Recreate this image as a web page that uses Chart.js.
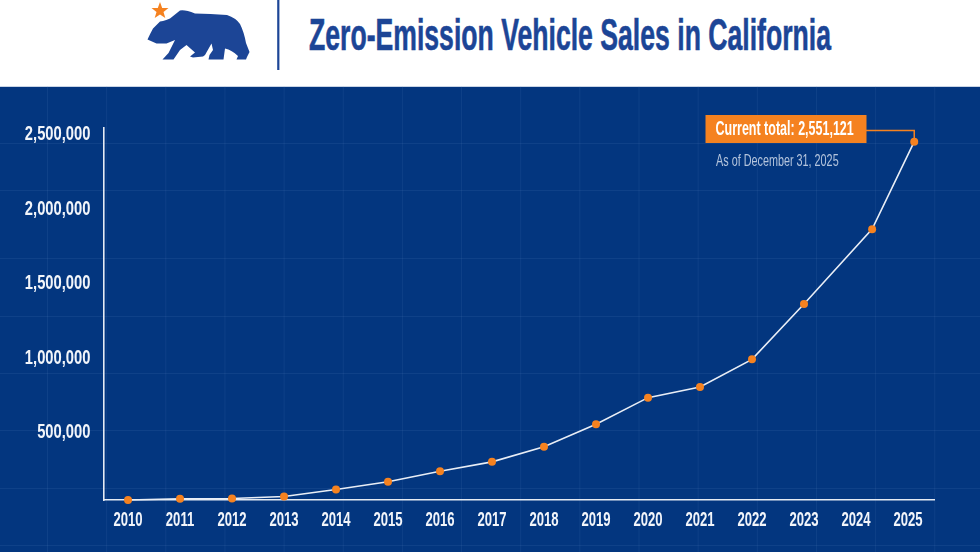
<!DOCTYPE html>
<html>
<head>
<meta charset="utf-8">
<style>
  html, body { margin: 0; padding: 0; background: #fff; overflow: hidden; }
  #head { position: absolute; left: 0; top: 0; width: 980px; height: 86px; background: #fff; }
  #panel { position: absolute; left: 0; top: 86px; width: 980px; height: 466px; background: #03367f; border-top: 1px solid #c9d5e6; box-sizing: border-box; }
  #wrap { position: absolute; left: 0; top: 86px; width: 980px; height: 466px; }
</style>
</head>
<body>
<div id="head">
  <svg width="980" height="86" xmlns="http://www.w3.org/2000/svg">
    <polygon fill="#f58220" points="160,2 162.2,7.9 168.5,8.1 163.5,12 165.3,18 160,14.5 154.7,18 156.5,12 151.5,8.1 157.8,7.9"/>
    <path fill="#1c4596" d="M147.5,39.5 Q150,34 153,28.5 L160,21.5 L163,21 Q166,20 170,18.5 L180,10.5 Q185,9.5 195,13.5 Q210,13.5 227,15 Q236,18 240,24 Q244,32 246,43 L249.5,52 L247,57 L246,59.5 L236.5,59.5 L238,56 Q232,50 225,48.5 L223.5,59.5 L208.5,59.5 L209.5,55 L213,50 L211.5,43.5 L205,55 L203,56.5 L193,57.5 L190,56.5 L195,52.5 L186.5,45 L180,50 L173.5,59.5 L162.5,59.5 L168.5,53 L175,40 L166.5,43.5 L156.5,43.5 Z"/>
    <rect x="277.2" y="0" width="2.2" height="70" fill="#1c4596"/>
    <text x="309" y="50" textLength="522" lengthAdjust="spacingAndGlyphs" font-family="Liberation Sans" font-weight="700" font-size="44" fill="#1c4596" stroke="#1c4596" stroke-width="0.6">Zero-Emission Vehicle Sales in California</text>
  </svg>
</div>
<div id="panel"></div>
<div id="wrap"><canvas id="salesChart" width="980" height="466"></canvas></div>
<script src="https://cdn.jsdelivr.net/npm/chart.js@4/dist/chart.umd.min.js"></script>
<script>
var years = [2010, 2011, 2012, 2013, 2014, 2015, 2016, 2017, 2018, 2019, 2020, 2021, 2022, 2023, 2024, 2025];
var saleDates = [2010, 2011, 2012, 2013, 2014, 2015, 2016, 2017, 2018, 2019, 2020, 2021, 2022, 2023, 2024.31, 2025.12];
var salesTotals = [40000, 48000, 50000, 63000, 110000, 162000, 233000, 296000, 397000, 549000, 727000, 798000, 984000, 1356000, 1858000, 2445000];
var yTicks = [500000, 1000000, 1500000, 2000000, 2500000];
var calloutText = 'Current total: 2,551,121';
var asOfText = 'As of December 31, 2025';

var FONT = '"Liberation Sans"';

function narrowText(ctx, text, x, y, scaleX, font, color, align) {
    ctx.save();
    ctx.font = font;
    ctx.fillStyle = color;
    ctx.textAlign = align;
    ctx.textBaseline = 'middle';
    ctx.translate(x, y);
    ctx.scale(scaleX, 1);
    ctx.fillText(text, 0, 0);
    ctx.restore();
}

// faint blueprint lines behind everything
var blueprint = {
    id: 'blueprint',
    beforeDraw: function (chart) {
        var ctx = chart.ctx, x;
        ctx.save();
        ctx.strokeStyle = 'rgba(120,155,205,0.11)';
        ctx.lineWidth = 1;
        ctx.beginPath();
        for (x = 47.5; x < 980; x += 59.15) { ctx.moveTo(x, 0); ctx.lineTo(x, 466); }
        [57, 104, 172, 230, 287, 344, 402, 459].forEach(function (y) {
            ctx.moveTo(0, y + 0.5);
            ctx.lineTo(980, y + 0.5);
        });
        ctx.stroke();
        ctx.restore();
    }
};

// condensed tick labels, taken from the scales
var axisLabels = {
    id: 'axisLabels',
    afterDatasetsDraw: function (chart) {
        var ctx = chart.ctx, xs = chart.scales.x, ys = chart.scales.y;
        xs.ticks.forEach(function (t) {
            narrowText(ctx, String(t.value), xs.getPixelForValue(t.value), 434, 0.64, 'bold 20.5px ' + FONT, '#f2f5fa', 'center');
        });
        ys.ticks.forEach(function (t) {
            narrowText(ctx, t.value.toLocaleString('en-US'), 90.5, ys.getPixelForValue(t.value) + 1, 0.72, 'bold 20.5px ' + FONT, '#f2f5fa', 'right');
        });
    }
};

// orange label tied to the last point
var callout = {
    id: 'callout',
    afterDatasetsDraw: function (chart) {
        var ctx = chart.ctx;
        var pts = chart.getDatasetMeta(0).data;
        var last = pts[pts.length - 1];
        ctx.save();
        ctx.strokeStyle = '#f58220';
        ctx.lineWidth = 1.5;
        ctx.beginPath();
        ctx.moveTo(866, 44.5);
        ctx.lineTo(last.x, 44.5);
        ctx.lineTo(last.x, last.y);
        ctx.stroke();
        ctx.fillStyle = '#f58220';
        ctx.fillRect(705.5, 29, 161, 28);
        ctx.restore();
        narrowText(ctx, calloutText, 715.5, 43, 0.625, 'bold 20px ' + FONT, '#ffffff', 'left');
        narrowText(ctx, asOfText, 716, 76, 0.676, '16px ' + FONT, '#b4c4dc', 'left');
    }
};

new Chart(document.getElementById('salesChart'), {
    type: 'line',
    data: {
        datasets: [{
            data: saleDates.map(function (d, i) { return { x: d, y: salesTotals[i] }; }),
            borderColor: '#e9eef6',
            borderWidth: 1.6,
            tension: 0,
            pointRadius: 4,
            pointBackgroundColor: '#f58220',
            pointBorderColor: '#f58220',
            pointBorderWidth: 0,
            clip: false
        }]
    },
    options: {
        responsive: false,
        animation: false,
        events: [],
        layout: { padding: { left: 96, right: 46, top: 42, bottom: 44 } },
        plugins: {
            legend: { display: false },
            title: { display: false },
            tooltip: { enabled: false }
        },
        scales: {
            x: {
                type: 'linear',
                min: 2009.538,
                max: 2025.5,
                afterBuildTicks: function (axis) {
                    axis.ticks = years.map(function (y) { return { value: y }; });
                },
                grid: { display: false },
                border: { color: '#e4eaf3', width: 1.6 },
                ticks: { display: false }
            },
            y: {
                type: 'linear',
                min: 40000,
                max: 2537000,
                afterBuildTicks: function (axis) {
                    axis.ticks = yTicks.map(function (v) { return { value: v }; });
                },
                grid: { display: false },
                border: { color: '#e4eaf3', width: 1.6 },
                ticks: { display: false }
            }
        }
    },
    plugins: [blueprint, axisLabels, callout]
});
</script>
</body>
</html>
